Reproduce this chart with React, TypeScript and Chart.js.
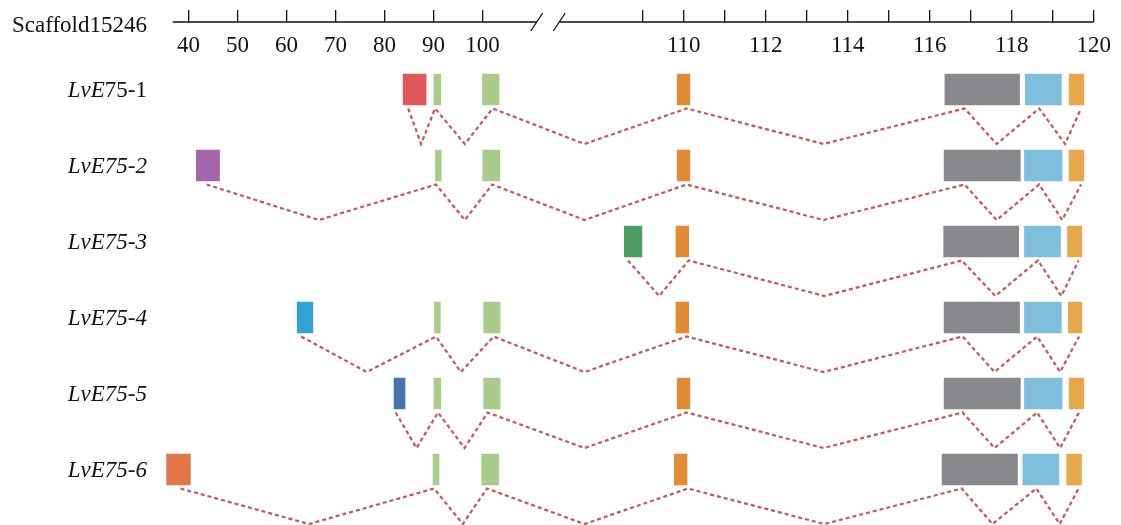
import React, { useEffect, useRef } from "react";
import { Chart, registerables, LinearScale } from "chart.js";

// ---------------- data ----------------
const axisTitle = "Scaffold15246";
const tickValues = [40, 50, 60, 70, 80, 90, 100, 109, 110, 111, 112, 113, 114, 115, 116, 117, 118, 119, 120];
const tickLabels = ["40", "50", "60", "70", "80", "90", "100", "", "110", "", "112", "", "114", "", "116", "", "118", "", "120"];
const axisStart = 36.8;
const axisEnd = 120;

// row labels: italic part + roman part
const rowItalic = ["LvE", "LvE75-2", "LvE75-3", "LvE75-4", "LvE75-5", "LvE75-6"];
const rowRoman = ["75-1", "", "", "", "", ""];

// exon colours
const cRed = "#E0585A";
const cPurple = "#A466A6";
const cDarkGreen = "#4C9C62";
const cCyan = "#33A2D6";
const cDarkBlue = "#4775AE";
const cOrangeRed = "#E27647";
const cLightGreen = "#A9CC8A";
const cOrange = "#E38B34";
const cGray = "#88898C";
const cBlue = "#80BEDD";
const cYellow = "#E7A84B";
const intronColor = "#C9545A";

// exons [start, end] per transcript
const row1Exons = [[83.8, 88.5], [90.1, 91.5], [100.0, 103.4], [109.84, 110.15], [116.37, 118.19], [118.33, 119.21], [119.4, 119.76]];
const row2Exons = [[41.6, 46.35], [90.4, 91.6], [100.05, 103.56], [109.84, 110.15], [116.35, 118.21], [118.31, 119.23], [119.4, 119.76]];
const row3Exons = [[108.55, 108.98], [109.81, 110.12], [116.34, 118.17], [118.31, 119.19], [119.36, 119.71]];
const row4Exons = [[62.2, 65.4], [90.2, 91.4], [100.25, 103.6], [109.81, 110.12], [116.35, 118.19], [118.31, 119.21], [119.38, 119.71]];
const row5Exons = [[81.96, 84.2], [90.1, 91.5], [100.25, 103.6], [109.84, 110.15], [116.35, 118.21], [118.31, 119.23], [119.4, 119.76]];
const row6Exons = [[35.55, 40.4], [89.92, 91.14], [99.85, 103.3], [109.77, 110.08], [116.3, 118.14], [118.27, 119.15], [119.34, 119.7]];

const row1Colors = [cRed, cLightGreen, cLightGreen, cOrange, cGray, cBlue, cYellow];
const row2Colors = [cPurple, cLightGreen, cLightGreen, cOrange, cGray, cBlue, cYellow];
const row3Colors = [cDarkGreen, cOrange, cGray, cBlue, cYellow];
const row4Colors = [cCyan, cLightGreen, cLightGreen, cOrange, cGray, cBlue, cYellow];
const row5Colors = [cDarkBlue, cLightGreen, cLightGreen, cOrange, cGray, cBlue, cYellow];
const row6Colors = [cOrangeRed, cLightGreen, cLightGreen, cOrange, cGray, cBlue, cYellow];

// intron zig-zag: alternating junction (below exon) / valley positions
const row1Intron = [84.85, 87.49, 90.32, 96.4, 102.08, 107.58, 110.07, 113.41, 116.85, 117.63, 118.67, 119.3, 119.69];
const row2Intron = [43.72, 66.62, 90.53, 96.4, 102.0, 107.58, 110.07, 113.41, 116.85, 117.63, 118.67, 119.23, 119.69];
const row3Intron = [108.64, 109.4, 110.12, 113.43, 116.78, 117.6, 118.64, 119.21, 119.63];
const row4Intron = [63.02, 76.38, 90.53, 95.6, 102.28, 107.58, 110.07, 113.41, 116.8, 117.58, 118.62, 119.18, 119.64];
const row5Intron = [82.28, 86.54, 90.93, 96.34, 101.06, 107.58, 110.07, 113.41, 116.8, 117.58, 118.62, 119.18, 119.64];
const row6Intron = [38.39, 64.59, 90.12, 96.0, 100.92, 107.58, 110.1, 113.43, 116.78, 117.53, 118.6, 119.17, 119.63];

const allExons = [row1Exons, row2Exons, row3Exons, row4Exons, row5Exons, row6Exons];
const allColors = [row1Colors, row2Colors, row3Colors, row4Colors, row5Colors, row6Colors];
const allIntrons = [row1Intron, row2Intron, row3Intron, row4Intron, row5Intron, row6Intron];

// ---------------- broken linear scale ----------------
class BrokenScale extends LinearScale {
  static id = "broken";
  _bk() {
    const o: any = this.options;
    const b = o.breakAt;
    const gap = o.breakGap;
    const z = o.rightZoom;
    const units = (b - this.min) + (this.max - b) * z;
    const k = ((this as any)._length - gap) / units;
    return { b, gap, z, k };
  }
  getPixelForValue(value: any) {
    if (value === null || value === undefined || isNaN(value)) return NaN;
    const { b, gap, z, k } = this._bk();
    const s = (this as any)._startPixel;
    if (value < b) return s + (value - this.min) * k;
    return s + (b - this.min) * k + gap + (value - b) * z * k;
  }
  getValueForPixel(pixel: number) {
    const { b, gap, z, k } = this._bk();
    const p = pixel - (this as any)._startPixel;
    const lw = (b - this.min) * k;
    if (p < lw) return this.min + p / k;
    if (p < lw + gap) return b;
    return b + (p - lw - gap) / (z * k);
  }
}

Chart.register(...registerables, BrokenScale as any);

const SERIF = '"Liberation Serif", "Times New Roman", serif';
const peakOff = 0.25;
const valleyOff = 0.717;

const overlayPlugin = {
  id: "geneOverlay",
  afterDraw(chart: any) {
    const ctx = chart.ctx;
    const xs = chart.scales.x;
    const ys = chart.scales.y;
    const o = xs.options;
    const yA = xs.bottom;
    ctx.save();
    // broken axis line
    const leftEnd = xs.getPixelForValue(o.breakAt - 1e-9);
    const rightStart = xs.getPixelForValue(o.breakAt);
    const s1 = leftEnd + 20;
    const s2 = rightStart - 1.5;
    ctx.strokeStyle = "#111";
    ctx.lineWidth = 1.3;
    ctx.beginPath();
    ctx.moveTo(xs.getPixelForValue(axisStart), yA);
    ctx.lineTo(s1, yA);
    ctx.moveTo(s2, yA);
    ctx.lineTo(xs.getPixelForValue(axisEnd), yA);
    for (const c of [s1, s2]) {
      ctx.moveTo(c - 6, yA + 9);
      ctx.lineTo(c + 6, yA - 9);
    }
    ctx.stroke();

    // axis title
    const right = chart.chartArea.left - 12;
    ctx.fillStyle = "#111";
    ctx.textAlign = "left";
    ctx.textBaseline = "alphabetic";
    ctx.font = `23px ${SERIF}`;
    const tw = ctx.measureText(axisTitle).width;
    ctx.fillText(axisTitle, right - tw, yA + 10);

    // row labels (mixed italic / roman)
    for (let i = 0; i < rowItalic.length; i++) {
      const y = ys.getPixelForValue(i + 1) + 7.5;
      ctx.font = `italic 23px ${SERIF}`;
      const wi = ctx.measureText(rowItalic[i]).width;
      ctx.font = `23px ${SERIF}`;
      const wr = rowRoman[i] ? ctx.measureText(rowRoman[i]).width : 0;
      const x0 = right - wi - wr;
      ctx.font = `italic 23px ${SERIF}`;
      ctx.fillText(rowItalic[i], x0, y);
      if (rowRoman[i]) {
        ctx.font = `23px ${SERIF}`;
        ctx.fillText(rowRoman[i], x0 + wi, y);
      }
    }
    ctx.restore();
  },
};

export default function App() {
  const ref = useRef<HTMLCanvasElement | null>(null);
  useEffect(() => {
    if (!ref.current) return;
    const datasets: any[] = [];
    allIntrons.forEach((intr, i) => {
      datasets.push({
        type: "line",
        data: intr.map((x, j) => ({ x, y: i + 1 + (j % 2 === 0 ? peakOff : valleyOff) })),
        borderColor: intronColor,
        borderWidth: 2.2,
        borderDash: [4, 3],
        pointRadius: 0,
        fill: false,
        tension: 0,
        order: 2,
      });
    });
    allExons.forEach((ex, i) => {
      datasets.push({
        type: "bar",
        indexAxis: "y",
        grouped: false,
        barThickness: 31,
        data: ex.map((e) => ({ x: e, y: i + 1 })),
        backgroundColor: allColors[i],
        borderWidth: 0,
        order: 1,
      });
    });

    const chart = new Chart(ref.current, {
      type: "bar",
      data: { datasets },
      options: {
        animation: false,
        responsive: true,
        maintainAspectRatio: false,
        layout: { padding: { left: 159, right: 21, top: 0, bottom: 0 } },
        plugins: { legend: { display: false }, tooltip: { enabled: false } },
        events: [],
        scales: {
          x: {
            type: "broken",
            position: "top",
            min: 34,
            max: 120,
            breakAt: 107,
            breakGap: 44,
            rightZoom: 8.366,
            offset: false,
            afterBuildTicks: (s: any) => {
              s.ticks = tickValues.map((v) => ({ value: v }));
            },
            afterFit: (s: any) => {
              s.height = 22;
            },
            grid: {
              display: true,
              offset: false,
              drawOnChartArea: false,
              drawTicks: true,
              tickLength: 12,
              color: "#111",
              lineWidth: 1.3,
            },
            border: { display: false },
            ticks: {
              autoSkip: false,
              maxRotation: 0,
              minRotation: 0,
              mirror: true,
              padding: 10,
              color: "#111",
              font: { family: SERIF, size: 23 },
              callback: (_v: any, idx: number) => tickLabels[idx],
            },
          } as any,
          y: {
            type: "linear",
            min: 0.112,
            max: 6.73,
            reverse: true,
            display: false,
            offset: false,
          },
        },
      } as any,
      plugins: [overlayPlugin],
    });
    return () => chart.destroy();
  }, []);

  return (
    <div style={{ position: "fixed", left: 0, top: 0, width: 1121, height: 525, background: "#fff" }}>
      <canvas ref={ref} />
    </div>
  );
}
